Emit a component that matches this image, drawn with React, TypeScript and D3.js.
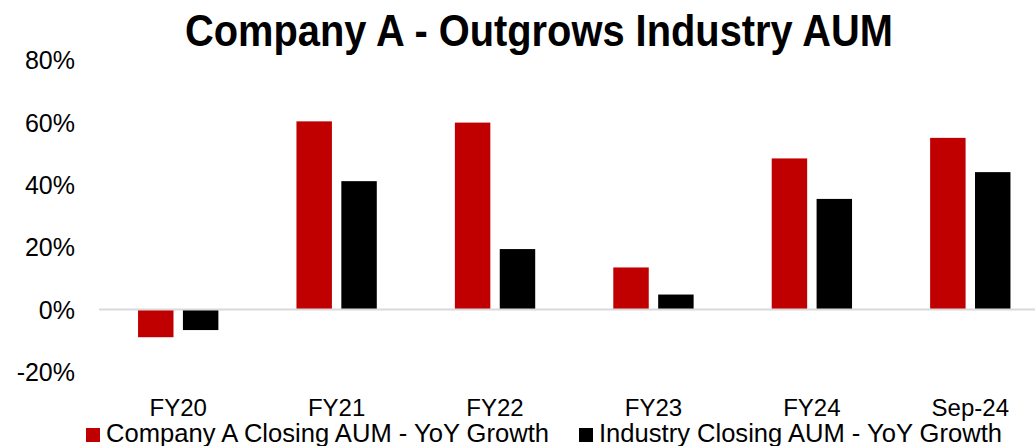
import React, { useEffect, useRef } from 'react'
import * as d3 from 'd3'

const categories = ['FY20', 'FY21', 'FY22', 'FY23', 'FY24', 'Sep-24']
const seriesNames = [
  'Company A Closing AUM - YoY Growth',
  'Industry Closing AUM - YoY Growth',
]
const companyGrowth = [-8.9, 60.4, 60.0, 13.5, 48.5, 55.1]
const industryGrowth = [-6.6, 41.2, 19.4, 4.8, 35.5, 44.1]
const yTicks = [-20, 0, 20, 40, 60, 80]
const colors = ['#C00000', '#000000']

const WIDTH = 1035
const HEIGHT = 446

const App = () => {
  const svgRef = useRef<SVGSVGElement | null>(null)

  useEffect(() => {
    const svg = d3.select(svgRef.current)
    svg.selectAll('*').remove()

    const font = '"Liberation Sans", Arial, sans-serif'

    // scales
    const x = d3.scaleBand().domain(categories).range([99, 1049.5]).padding(0)
    const xInner = d3
      .scaleBand()
      .domain(seriesNames)
      .range([0, x.step()])
      .paddingInner(0.21)
      .paddingOuter(0.87)
    const y = d3.scaleLinear().domain([-20, 80]).range([371.8, 60.3])

    // title
    svg
      .append('text')
      .attr('x', 185)
      .attr('y', 46)
      .attr('textLength', 708)
      .attr('lengthAdjust', 'spacingAndGlyphs')
      .style('font-family', font)
      .style('font-weight', 'bold')
      .style('font-size', '45px')
      .attr('fill', '#000')
      .text('Company A - Outgrows Industry AUM')

    // y labels
    svg
      .selectAll('.ytick')
      .data(yTicks)
      .join('text')
      .attr('class', 'ytick')
      .attr('x', 75)
      .attr('y', (d) => y(d) + 9)
      .attr('text-anchor', 'end')
      .style('font-family', font)
      .style('font-size', '25px')
      .attr('fill', '#000')
      .text((d) => d + '%')

    // bars
    const rows = categories.map((c, i) => ({
      cat: c,
      vals: [companyGrowth[i], industryGrowth[i]],
    }))

    const groups = svg
      .selectAll('.grp')
      .data(rows)
      .join('g')
      .attr('class', 'grp')
      .attr('transform', (d) => `translate(${x(d.cat)},0)`)

    groups
      .selectAll('rect')
      .data((d) => d.vals.map((v, j) => ({ v, s: seriesNames[j], j })))
      .join('rect')
      .attr('x', (d) => xInner(d.s) as number)
      .attr('width', xInner.bandwidth())
      .attr('y', (d) => Math.min(y(d.v), y(0)))
      .attr('height', (d) => Math.abs(y(d.v) - y(0)))
      .attr('fill', (d) => colors[d.j])

    // zero line
    svg
      .append('line')
      .attr('x1', 99)
      .attr('x2', WIDTH)
      .attr('y1', y(0))
      .attr('y2', y(0))
      .attr('stroke', '#d9d9d9')
      .attr('stroke-width', 2)

    // x labels
    svg
      .selectAll('.xlab')
      .data(categories)
      .join('text')
      .attr('class', 'xlab')
      .attr('x', (d) => (x(d) as number) + x.bandwidth() / 2)
      .attr('y', 416)
      .attr('text-anchor', 'middle')
      .style('font-family', font)
      .style('font-size', '24px')
      .attr('fill', '#000')
      .text((d) => d)

    // legend
    const legendX = [86, 579]
    const legendLen = [443, 403]
    const legend = svg
      .selectAll('.leg')
      .data(seriesNames)
      .join('g')
      .attr('class', 'leg')
      .attr('transform', (d, i) => `translate(${legendX[i]},428)`)

    legend
      .append('rect')
      .attr('width', 14)
      .attr('height', 14)
      .attr('fill', (d, i) => colors[i])

    legend
      .append('text')
      .attr('x', 20)
      .attr('y', 14)
      .attr('textLength', (d, i) => legendLen[i])
      .attr('lengthAdjust', 'spacingAndGlyphs')
      .style('font-family', font)
      .style('font-size', '25px')
      .attr('fill', '#000')
      .text((d) => d)
  }, [])

  return (
    <svg
      ref={svgRef}
      width={WIDTH}
      height={HEIGHT}
      style={{ position: 'absolute', left: 0, top: 0, background: '#fff' }}
    />
  )
}

export default App
